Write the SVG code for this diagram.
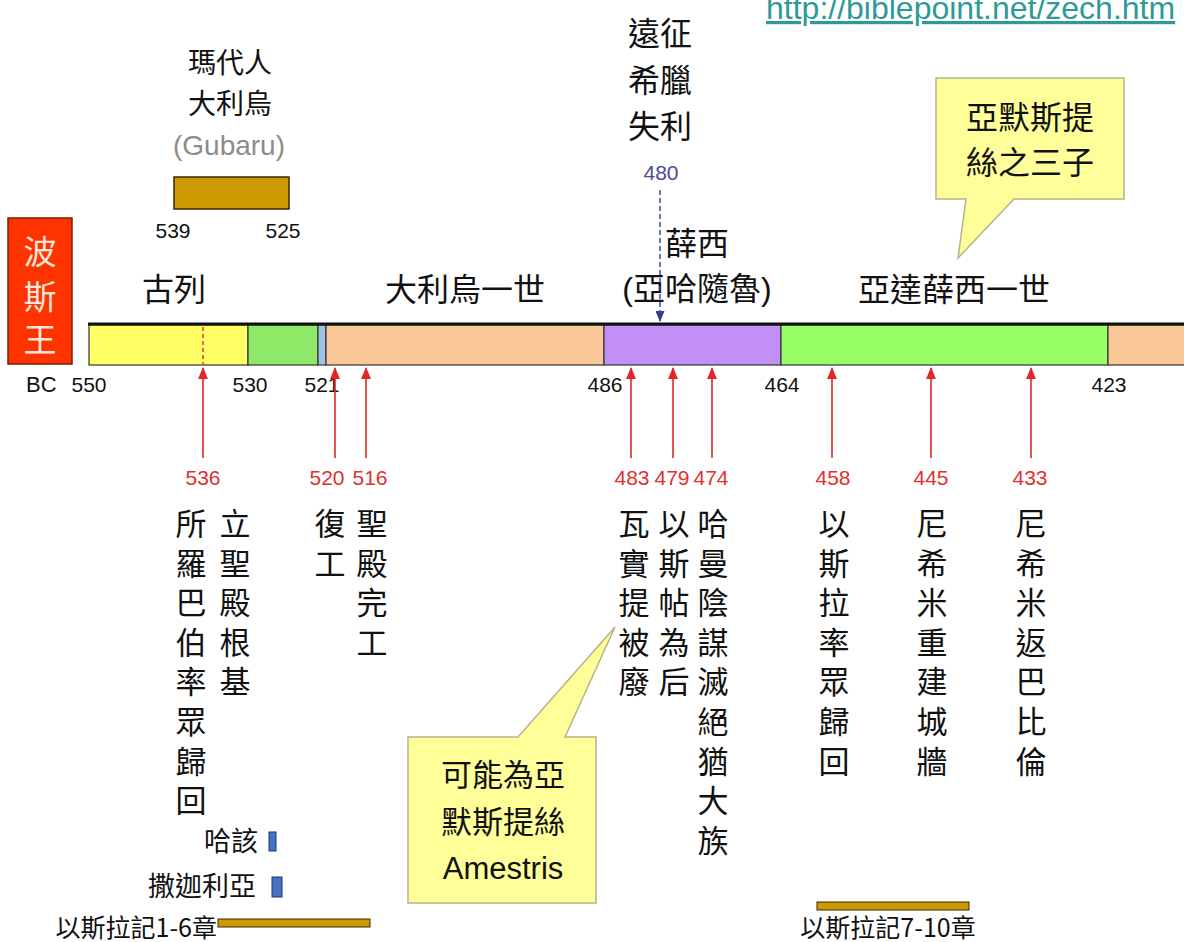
<svg xmlns="http://www.w3.org/2000/svg" width="1184" height="942" viewBox="0 0 1184 942">
<style>
.cjk{font-family:"Noto Sans CJK TC","Noto Sans CJK SC",sans-serif;fill:#111}
.mix{font-family:"Liberation Sans","Noto Sans CJK TC",sans-serif;fill:#111}
.num{font-family:"Liberation Sans",Arial,sans-serif;font-size:21px;fill:#111;text-anchor:middle}
.red{fill:#E03030}
.col{font-size:31px;text-anchor:middle}
.seg{stroke:#333;stroke-width:1.2}
.arr{stroke:#E02828;stroke-width:1.6;fill:none}
.call{fill:#FFFF99;stroke:#B4B48C;stroke-width:1.5}
</style>
<defs>
<marker id="ra" markerUnits="userSpaceOnUse" markerWidth="12" markerHeight="10" refX="11" refY="5" orient="auto" viewBox="0 0 12 10">
<path d="M0,0 L12,5 L0,10 Z" fill="#E02828"/>
</marker>
<marker id="ba" markerUnits="userSpaceOnUse" markerWidth="11" markerHeight="9" refX="10" refY="4.5" orient="auto" viewBox="0 0 11 9">
<path d="M0,0 L11,4.5 L0,9 Z" fill="#3A3A90"/>
</marker>
</defs>
<rect width="1184" height="942" fill="#fff"/>

<g id="url">
<text x="766" y="19" font-family="Liberation Sans,Arial,sans-serif" font-size="32" fill="#2E9A98" text-decoration="underline">http://biblepoint.net/zech.htm</text>
</g>

<g id="persia-king">
<rect x="8" y="218" width="64" height="146" fill="#FF3300" stroke="#7A2000" stroke-width="1.5"/>
<text class="cjk" x="40" y="264" font-size="33" text-anchor="middle" style="fill:#FFE6DC">波</text>
<text class="cjk" x="40" y="309" font-size="33" text-anchor="middle" style="fill:#FFE6DC">斯</text>
<text class="cjk" x="40" y="352" font-size="33" text-anchor="middle" style="fill:#FFE6DC">王</text>
</g>

<g id="gubaru">
<text class="cjk" x="230" y="73" font-size="28" text-anchor="middle">瑪代人</text>
<text class="cjk" x="230" y="114" font-size="28" text-anchor="middle">大利烏</text>
<text x="229" y="155" font-family="Liberation Sans,Arial,sans-serif" font-size="28" fill="#8C8C8C" text-anchor="middle">(Gubaru)</text>
<rect x="174" y="177" width="115" height="32" fill="#CC9900" stroke="#3A2A00" stroke-width="1.5"/>
<text class="num" x="173" y="238">539</text>
<text class="num" x="283" y="238">525</text>
</g>

<g id="greece">
<text class="cjk" x="660" y="45" font-size="32" text-anchor="middle">遠征</text>
<text class="cjk" x="660" y="92" font-size="32" text-anchor="middle">希臘</text>
<text class="cjk" x="660" y="138" font-size="32" text-anchor="middle">失利</text>
<text x="661" y="180" font-family="Liberation Sans,Arial,sans-serif" font-size="21" fill="#4A4A9A" text-anchor="middle">480</text>
</g>

<g id="callout-sons">
<path class="call" d="M936,78 H1124 V199 H1014 L958,258 L966,199 H936 Z"/>
<text class="cjk" x="1030" y="129" font-size="32" text-anchor="middle">亞默斯提</text>
<text class="cjk" x="1030" y="174" font-size="32" text-anchor="middle">絲之三子</text>
</g>

<g id="king-names">
<text class="cjk" x="174" y="301" font-size="32" text-anchor="middle">古列</text>
<text class="cjk" x="465" y="301" font-size="32" text-anchor="middle">大利烏一世</text>
<text class="cjk" x="697" y="255" font-size="32" text-anchor="middle">薛西</text>
<text class="mix" x="697" y="300" font-size="32" text-anchor="middle">(亞哈隨魯)</text>
<text class="cjk" x="954" y="301" font-size="32" text-anchor="middle">亞達薛西一世</text>
</g>

<g id="timeline-bar">
<rect class="seg" x="89" y="325" width="159" height="40" fill="#FFFF66"/>
<rect class="seg" x="248" y="325" width="70" height="40" fill="#8FE868"/>
<rect class="seg" x="318" y="325" width="8" height="40" fill="#9DC3E6"/>
<rect class="seg" x="326" y="325" width="278" height="40" fill="#FAC898"/>
<rect class="seg" x="604" y="325" width="177" height="40" fill="#C28FF7"/>
<rect class="seg" x="781" y="325" width="327" height="40" fill="#99FF66"/>
<rect class="seg" x="1108" y="325" width="80" height="40" fill="#FAC898"/>
<line x1="88" y1="324" x2="1184" y2="324" stroke="#111" stroke-width="3"/>
<line x1="203" y1="327" x2="203" y2="364" stroke="#E03030" stroke-width="1.5" stroke-dasharray="4,3"/>
</g>

<g id="axis-labels">
<text x="26" y="392" font-family="Liberation Sans,Arial,sans-serif" font-size="22" fill="#111">BC</text>
<text class="num" x="89" y="392">550</text>
<text class="num" x="250" y="392">530</text>
<text class="num" x="322" y="392">521</text>
<text class="num" x="605" y="392">486</text>
<text class="num" x="782" y="392">464</text>
<text class="num" x="1109" y="392">423</text>
</g>

<g id="connectors">
<line class="arr" x1="203" y1="458" x2="203" y2="368" marker-end="url(#ra)"/>
<line class="arr" x1="335" y1="458" x2="335" y2="368" marker-end="url(#ra)"/>
<line class="arr" x1="366" y1="458" x2="366" y2="368" marker-end="url(#ra)"/>
<line class="arr" x1="631" y1="458" x2="631" y2="368" marker-end="url(#ra)"/>
<line class="arr" x1="673" y1="458" x2="673" y2="368" marker-end="url(#ra)"/>
<line class="arr" x1="712" y1="458" x2="712" y2="368" marker-end="url(#ra)"/>
<line class="arr" x1="832" y1="458" x2="832" y2="368" marker-end="url(#ra)"/>
<line class="arr" x1="931" y1="458" x2="931" y2="368" marker-end="url(#ra)"/>
<line class="arr" x1="1031" y1="458" x2="1031" y2="368" marker-end="url(#ra)"/>
<line x1="660" y1="190" x2="660" y2="321" stroke="#3A3A90" stroke-width="1.4" stroke-dasharray="5,3" marker-end="url(#ba)"/>
</g>

<g id="event-years">
<text class="num red" x="203" y="485">536</text>
<text class="num red" x="327" y="485">520</text>
<text class="num red" x="370" y="485">516</text>
<text class="num red" x="632" y="485">483</text>
<text class="num red" x="672" y="485">479</text>
<text class="num red" x="711" y="485">474</text>
<text class="num red" x="833" y="485">458</text>
<text class="num red" x="931" y="485">445</text>
<text class="num red" x="1030" y="485">433</text>
</g>

<g id="event-texts">
<text class="cjk col" y="535"><tspan x="191">所</tspan><tspan x="191" dy="39.6">羅</tspan><tspan x="191" dy="39.6">巴</tspan><tspan x="191" dy="39.6">伯</tspan><tspan x="191" dy="39.6">率</tspan><tspan x="191" dy="39.6">眾</tspan><tspan x="191" dy="39.6">歸</tspan><tspan x="191" dy="39.6">回</tspan></text>
<text class="cjk col" y="535"><tspan x="235">立</tspan><tspan x="235" dy="39.6">聖</tspan><tspan x="235" dy="39.6">殿</tspan><tspan x="235" dy="39.6">根</tspan><tspan x="235" dy="39.6">基</tspan></text>
<text class="cjk col" y="535"><tspan x="330">復</tspan><tspan x="330" dy="39.6">工</tspan></text>
<text class="cjk col" y="535"><tspan x="372">聖</tspan><tspan x="372" dy="39.6">殿</tspan><tspan x="372" dy="39.6">完</tspan><tspan x="372" dy="39.6">工</tspan></text>
<text class="cjk col" y="535"><tspan x="634">瓦</tspan><tspan x="634" dy="39.6">實</tspan><tspan x="634" dy="39.6">提</tspan><tspan x="634" dy="39.6">被</tspan><tspan x="634" dy="39.6">廢</tspan></text>
<text class="cjk col" y="535"><tspan x="674">以</tspan><tspan x="674" dy="39.6">斯</tspan><tspan x="674" dy="39.6">帖</tspan><tspan x="674" dy="39.6">為</tspan><tspan x="674" dy="39.6">后</tspan></text>
<text class="cjk col" y="535"><tspan x="713">哈</tspan><tspan x="713" dy="39.6">曼</tspan><tspan x="713" dy="39.6">陰</tspan><tspan x="713" dy="39.6">謀</tspan><tspan x="713" dy="39.6">滅</tspan><tspan x="713" dy="39.6">絕</tspan><tspan x="713" dy="39.6">猶</tspan><tspan x="713" dy="39.6">大</tspan><tspan x="713" dy="39.6">族</tspan></text>
<text class="cjk col" y="535"><tspan x="834">以</tspan><tspan x="834" dy="39.6">斯</tspan><tspan x="834" dy="39.6">拉</tspan><tspan x="834" dy="39.6">率</tspan><tspan x="834" dy="39.6">眾</tspan><tspan x="834" dy="39.6">歸</tspan><tspan x="834" dy="39.6">回</tspan></text>
<text class="cjk col" y="535"><tspan x="932">尼</tspan><tspan x="932" dy="39.6">希</tspan><tspan x="932" dy="39.6">米</tspan><tspan x="932" dy="39.6">重</tspan><tspan x="932" dy="39.6">建</tspan><tspan x="932" dy="39.6">城</tspan><tspan x="932" dy="39.6">牆</tspan></text>
<text class="cjk col" y="535"><tspan x="1031">尼</tspan><tspan x="1031" dy="39.6">希</tspan><tspan x="1031" dy="39.6">米</tspan><tspan x="1031" dy="39.6">返</tspan><tspan x="1031" dy="39.6">巴</tspan><tspan x="1031" dy="39.6">比</tspan><tspan x="1031" dy="39.6">倫</tspan></text>
</g>

<g id="callout-amestris">
<path class="call" d="M408,737 H518 L615,627 L565,737 H596 V903 H408 Z"/>
<text class="cjk" x="503" y="786" font-size="31" text-anchor="middle">可能為亞</text>
<text class="cjk" x="503" y="833" font-size="31" text-anchor="middle">默斯提絲</text>
<text x="503" y="879" font-family="Liberation Sans,Arial,sans-serif" font-size="31" fill="#111" text-anchor="middle">Amestris</text>
</g>

<g id="prophets">
<text class="cjk" x="258" y="851" font-size="27" text-anchor="end">哈該</text>
<rect x="269" y="832" width="7" height="19" fill="#4472C4" stroke="#203864" stroke-width="1"/>
<text class="cjk" x="256" y="896" font-size="27" text-anchor="end">撒迦利亞</text>
<rect x="272" y="877" width="10" height="20" fill="#4472C4" stroke="#203864" stroke-width="1"/>
</g>

<g id="ezra-1-6">
<text class="cjk" x="217" y="937" font-size="25" text-anchor="end">以斯拉記1-6章</text>
<rect x="218" y="919" width="152" height="8" fill="#CC9900" stroke="#3A2A00" stroke-width="1"/>
</g>

<g id="ezra-7-10">
<rect x="817" y="902" width="152" height="8" fill="#CC9900" stroke="#3A2A00" stroke-width="1"/>
<text class="cjk" x="888" y="937" font-size="25" text-anchor="middle">以斯拉記7-10章</text>
</g>
</svg>
